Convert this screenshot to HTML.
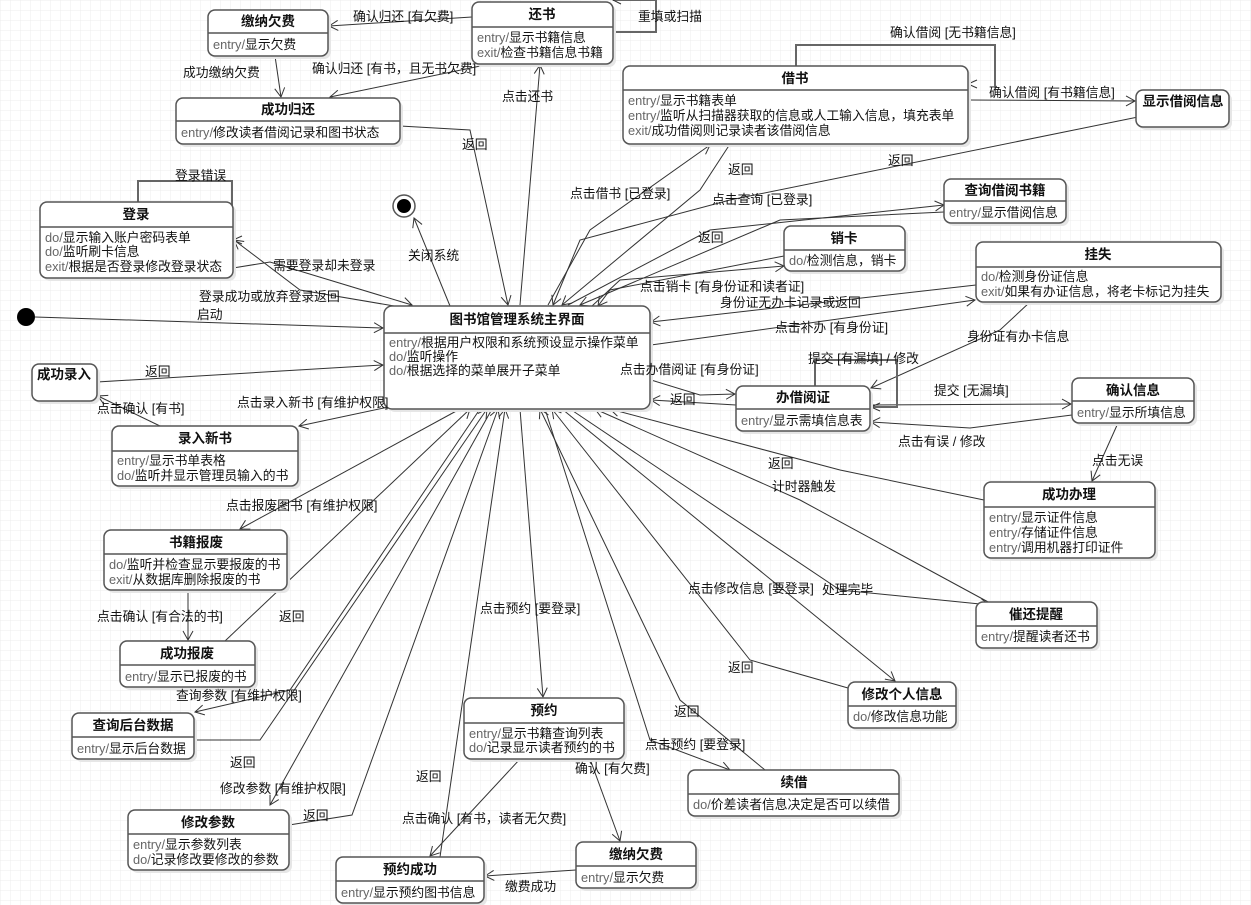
<!DOCTYPE html>
<html><head><meta charset="utf-8"><style>
html,body{margin:0;padding:0;background:#fff}
svg{display:block;font-family:"Liberation Sans","Noto Sans CJK SC",sans-serif}
.b{fill:#fff;stroke:#555;stroke-width:1.5}
.s{fill:#e6e6e6;stroke:none}
.dv{stroke:#555;stroke-width:1.5}
.t{font-size:13.5px;font-weight:bold;text-anchor:middle;fill:#111}
.c{font-size:12.8px;fill:#111}
.k{fill:#666}
.e{fill:none;stroke:#333;stroke-width:1}
.lp{fill:none;stroke:#666;stroke-width:2}
.l{font-size:12.8px;fill:#111}
</style></head><body>
<svg width="1251" height="905" viewBox="0 0 1251 905">
<defs>
<pattern id="g" width="10" height="10" patternUnits="userSpaceOnUse"><path d="M10 0H0V10" fill="none" stroke="#ececec" stroke-width="1"/></pattern>
<marker id="a" markerWidth="12" markerHeight="12" refX="10" refY="6" orient="auto" markerUnits="userSpaceOnUse"><path d="M1 1L10 6L1 11" fill="none" stroke="#333" stroke-width="1"/></marker>
</defs>
<rect width="1251" height="905" fill="url(#g)"/>

<g class="e" marker-end="url(#a)">
<path d="M472 17L329 26"/>
<path d="M275 56L281 97"/>
<path d="M490 64L330 97"/>
<path d="M400 126L470 130L508 305"/>
<path d="M520 305L540 65"/>
<path d="M968 100L1135 101"/>
<path d="M1138 117L730 200L580 240L553 305"/>
<path d="M548 305L590 230L710 145"/>
<path d="M730 144L700 190L562 305"/>
<path d="M568 305L710 230L944 205"/>
<path d="M944 212L780 220L580 305"/>
<path d="M592 306L620 280L784 266"/>
<path d="M784 256L610 290L598 306"/>
<path d="M976 285L651 322"/>
<path d="M651 345L975 300"/>
<path d="M1030 302L1000 330L871 388"/>
<path d="M651 380L700 395L735 394"/>
<path d="M736 405L651 400"/>
<path d="M870 405L1071 404"/>
<path d="M1072 415L970 428L871 422"/>
<path d="M1118 423L1092 481"/>
<path d="M984 500L840 470L610 409"/>
<path d="M990 603L800 500L595 409"/>
<path d="M570 409L840 590L990 605"/>
<path d="M562 409L895 681"/>
<path d="M848 688L750 660L552 409"/>
<path d="M545 409L650 740L730 770"/>
<path d="M765 770L680 700L540 409"/>
<path d="M520 409L543 697"/>
<path d="M520 759L430 856"/>
<path d="M590 759L620 841"/>
<path d="M576 870L485 876"/>
<path d="M440 857L505 409"/>
<path d="M492 409L270 805"/>
<path d="M289 825L352 815L498 409"/>
<path d="M480 409L290 690L195 712"/>
<path d="M194 740L260 740L487 409"/>
<path d="M225 641L470 409"/>
<path d="M188 590L188 640"/>
<path d="M460 409L240 529"/>
<path d="M440 396L299 426"/>
<path d="M160 426L98 396"/>
<path d="M97 382L383 365"/>
<path d="M35 317L383 328"/>
<path d="M233 268L270 262L412 305"/>
<path d="M400 307L300 290L234 240"/>
<path d="M450 306L414 218"/>
</g>
<g class="lp">
<path d="M613 32H656V0H613"/>
<path d="M796 66V45H995V88"/>
<path d="M815 386V360H897V407H871"/>
<path d="M138 202V181H232V240H234"/>
</g>
<g fill="none" stroke="#333"><path d="M621 -4L613 0L621 4"/><path d="M977 80L968 84L977 88"/><path d="M880 403L871 407L880 411"/><path d="M242 236L233 240L242 244"/></g>

<circle cx="26" cy="317" r="9" fill="#000"/>
<circle cx="404" cy="206" r="11" fill="#fff" stroke="#555" stroke-width="1.5"/>
<circle cx="404" cy="206" r="7" fill="#000"/>

<g>
<rect class="s" x="211" y="13" width="120" height="46" rx="7"/><rect class="b" x="208" y="10" width="120" height="46" rx="7"/><text class="t" x="268" y="26">缴纳欠费</text><line class="dv" x1="208" y1="33" x2="328" y2="33"/><text class="c" x="213" y="49"><tspan class="k">entry/</tspan>显示欠费</text>

<rect class="s" x="475" y="5" width="141" height="62" rx="7"/><rect class="b" x="472" y="2" width="141" height="62" rx="7"/><text class="t" x="542" y="19">还书</text><line class="dv" x1="472" y1="27" x2="613" y2="27"/><text class="c" x="477" y="42"><tspan class="k">entry/</tspan>显示书籍信息</text><text class="c" x="477" y="57"><tspan class="k">exit/</tspan>检查书籍信息书籍</text>

<rect class="s" x="179" y="101" width="224" height="46" rx="7"/><rect class="b" x="176" y="98" width="224" height="46" rx="7"/><text class="t" x="288" y="114">成功归还</text><line class="dv" x1="176" y1="121" x2="400" y2="121"/><text class="c" x="181" y="137"><tspan class="k">entry/</tspan>修改读者借阅记录和图书状态</text>

<rect class="s" x="626" y="69" width="345" height="78" rx="7"/><rect class="b" x="623" y="66" width="345" height="78" rx="7"/><text class="t" x="795" y="83">借书</text><line class="dv" x1="623" y1="90" x2="968" y2="90"/><text class="c" x="628" y="105"><tspan class="k">entry/</tspan>显示书籍表单</text><text class="c" x="628" y="120"><tspan class="k">entry/</tspan>监听从扫描器获取的信息或人工输入信息，填充表单</text><text class="c" x="628" y="135"><tspan class="k">exit/</tspan>成功借阅则记录读者该借阅信息</text>

<rect class="s" x="1139" y="93" width="93" height="37" rx="7"/><rect class="b" x="1136" y="90" width="93" height="37" rx="7"/><text class="t" x="1183" y="106">显示借阅信息</text>

<rect class="s" x="947" y="182" width="122" height="44" rx="7"/><rect class="b" x="944" y="179" width="122" height="44" rx="7"/><text class="t" x="1005" y="195">查询借阅书籍</text><line class="dv" x1="944" y1="201" x2="1066" y2="201"/><text class="c" x="949" y="217"><tspan class="k">entry/</tspan>显示借阅信息</text>

<rect class="s" x="43" y="205" width="193" height="76" rx="7"/><rect class="b" x="40" y="202" width="193" height="76" rx="7"/><text class="t" x="136" y="219">登录</text><line class="dv" x1="40" y1="227" x2="233" y2="227"/><text class="c" x="45" y="242"><tspan class="k">do/</tspan>显示输入账户密码表单</text><text class="c" x="45" y="256"><tspan class="k">do/</tspan>监听刷卡信息</text><text class="c" x="45" y="271"><tspan class="k">exit/</tspan>根据是否登录修改登录状态</text>

<rect class="s" x="787" y="229" width="121" height="45" rx="7"/><rect class="b" x="784" y="226" width="121" height="45" rx="7"/><text class="t" x="844" y="243">销卡</text><line class="dv" x1="784" y1="250" x2="905" y2="250"/><text class="c" x="789" y="265"><tspan class="k">do/</tspan>检测信息，销卡</text>

<rect class="s" x="979" y="245" width="245" height="60" rx="7"/><rect class="b" x="976" y="242" width="245" height="60" rx="7"/><text class="t" x="1098" y="259">挂失</text><line class="dv" x1="976" y1="267" x2="1221" y2="267"/><text class="c" x="981" y="281"><tspan class="k">do/</tspan>检测身份证信息</text><text class="c" x="981" y="296"><tspan class="k">exit/</tspan>如果有办证信息，将老卡标记为挂失</text>

<rect class="s" x="387" y="309" width="266" height="103" rx="8"/><rect class="b" x="384" y="306" width="266" height="103" rx="8"/><text class="t" x="517" y="324">图书馆管理系统主界面</text><line class="dv" x1="384" y1="333" x2="650" y2="333"/><text class="c" x="389" y="347"><tspan class="k">entry/</tspan>根据用户权限和系统预设显示操作菜单</text><text class="c" x="389" y="361"><tspan class="k">do/</tspan>监听操作</text><text class="c" x="389" y="375"><tspan class="k">do/</tspan>根据选择的菜单展开子菜单</text>

<rect class="s" x="35" y="367" width="65" height="37" rx="7"/><rect class="b" x="32" y="364" width="65" height="37" rx="7"/><text class="t" x="64" y="379">成功录入</text>

<rect class="s" x="115" y="429" width="186" height="60" rx="7"/><rect class="b" x="112" y="426" width="186" height="60" rx="7"/><text class="t" x="205" y="443">录入新书</text><line class="dv" x1="112" y1="451" x2="298" y2="451"/><text class="c" x="117" y="465"><tspan class="k">entry/</tspan>显示书单表格</text><text class="c" x="117" y="480"><tspan class="k">do/</tspan>监听并显示管理员输入的书</text>

<rect class="s" x="739" y="389" width="134" height="45" rx="7"/><rect class="b" x="736" y="386" width="134" height="45" rx="7"/><text class="t" x="803" y="402">办借阅证</text><line class="dv" x1="736" y1="409" x2="870" y2="409"/><text class="c" x="741" y="425"><tspan class="k">entry/</tspan>显示需填信息表</text>

<rect class="s" x="1075" y="381" width="122" height="45" rx="7"/><rect class="b" x="1072" y="378" width="122" height="45" rx="7"/><text class="t" x="1133" y="395">确认信息</text><line class="dv" x1="1072" y1="401" x2="1194" y2="401"/><text class="c" x="1077" y="417"><tspan class="k">entry/</tspan>显示所填信息</text>

<rect class="s" x="987" y="485" width="171" height="76" rx="7"/><rect class="b" x="984" y="482" width="171" height="76" rx="7"/><text class="t" x="1069" y="499">成功办理</text><line class="dv" x1="984" y1="507" x2="1155" y2="507"/><text class="c" x="989" y="522"><tspan class="k">entry/</tspan>显示证件信息</text><text class="c" x="989" y="537"><tspan class="k">entry/</tspan>存储证件信息</text><text class="c" x="989" y="552"><tspan class="k">entry/</tspan>调用机器打印证件</text>

<rect class="s" x="107" y="533" width="183" height="60" rx="7"/><rect class="b" x="104" y="530" width="183" height="60" rx="7"/><text class="t" x="196" y="547">书籍报废</text><line class="dv" x1="104" y1="554" x2="287" y2="554"/><text class="c" x="109" y="569"><tspan class="k">do/</tspan>监听并检查显示要报废的书</text><text class="c" x="109" y="584"><tspan class="k">exit/</tspan>从数据库删除报废的书</text>

<rect class="s" x="979" y="605" width="121" height="46" rx="7"/><rect class="b" x="976" y="602" width="121" height="46" rx="7"/><text class="t" x="1036" y="619">催还提醒</text><line class="dv" x1="976" y1="626" x2="1097" y2="626"/><text class="c" x="981" y="641"><tspan class="k">entry/</tspan>提醒读者还书</text>

<rect class="s" x="123" y="644" width="135" height="46" rx="7"/><rect class="b" x="120" y="641" width="135" height="46" rx="7"/><text class="t" x="187" y="658">成功报废</text><line class="dv" x1="120" y1="665" x2="255" y2="665"/><text class="c" x="125" y="681"><tspan class="k">entry/</tspan>显示已报废的书</text>

<rect class="s" x="851" y="685" width="108" height="46" rx="7"/><rect class="b" x="848" y="682" width="108" height="46" rx="7"/><text class="t" x="902" y="699">修改个人信息</text><line class="dv" x1="848" y1="706" x2="956" y2="706"/><text class="c" x="853" y="721"><tspan class="k">do/</tspan>修改信息功能</text>

<rect class="s" x="467" y="701" width="160" height="61" rx="7"/><rect class="b" x="464" y="698" width="160" height="61" rx="7"/><text class="t" x="544" y="715">预约</text><line class="dv" x1="464" y1="723" x2="624" y2="723"/><text class="c" x="469" y="738"><tspan class="k">entry/</tspan>显示书籍查询列表</text><text class="c" x="469" y="752"><tspan class="k">do/</tspan>记录显示读者预约的书</text>

<rect class="s" x="75" y="716" width="122" height="46" rx="7"/><rect class="b" x="72" y="713" width="122" height="46" rx="7"/><text class="t" x="133" y="730">查询后台数据</text><line class="dv" x1="72" y1="737" x2="194" y2="737"/><text class="c" x="77" y="753"><tspan class="k">entry/</tspan>显示后台数据</text>

<rect class="s" x="691" y="773" width="211" height="46" rx="7"/><rect class="b" x="688" y="770" width="211" height="46" rx="7"/><text class="t" x="794" y="787">续借</text><line class="dv" x1="688" y1="794" x2="899" y2="794"/><text class="c" x="693" y="809"><tspan class="k">do/</tspan>价差读者信息决定是否可以续借</text>

<rect class="s" x="131" y="813" width="161" height="60" rx="7"/><rect class="b" x="128" y="810" width="161" height="60" rx="7"/><text class="t" x="208" y="827">修改参数</text><line class="dv" x1="128" y1="834" x2="289" y2="834"/><text class="c" x="133" y="849"><tspan class="k">entry/</tspan>显示参数列表</text><text class="c" x="133" y="864"><tspan class="k">do/</tspan>记录修改要修改的参数</text>

<rect class="s" x="579" y="845" width="120" height="46" rx="7"/><rect class="b" x="576" y="842" width="120" height="46" rx="7"/><text class="t" x="636" y="859">缴纳欠费</text><line class="dv" x1="576" y1="866" x2="696" y2="866"/><text class="c" x="581" y="882"><tspan class="k">entry/</tspan>显示欠费</text>

<rect class="s" x="339" y="860" width="148" height="46" rx="7"/><rect class="b" x="336" y="857" width="148" height="46" rx="7"/><text class="t" x="410" y="874">预约成功</text><line class="dv" x1="336" y1="881" x2="484" y2="881"/><text class="c" x="341" y="897"><tspan class="k">entry/</tspan>显示预约图书信息</text>
</g>

<g class="l">
<text x="353" y="21">确认归还 [有欠费]</text>
<text x="638" y="21">重填或扫描</text>
<text x="183" y="77">成功缴纳欠费</text>
<text x="312" y="73">确认归还 [有书，且无书欠费]</text>
<text x="462" y="149">返回</text>
<text x="502" y="101">点击还书</text>
<text x="890" y="37">确认借阅 [无书籍信息]</text>
<text x="989" y="97">确认借阅 [有书籍信息]</text>
<text x="888" y="165">返回</text>
<text x="570" y="198">点击借书 [已登录]</text>
<text x="728" y="174">返回</text>
<text x="712" y="204">点击查询 [已登录]</text>
<text x="698" y="242">返回</text>
<text x="640" y="291">点击销卡 [有身份证和读者证]</text>
<text x="720" y="307">身份证无办卡记录或返回</text>
<text x="775" y="332">点击补办 [有身份证]</text>
<text x="967" y="341">身份证有办卡信息</text>
<text x="808" y="363">提交 [有漏填] / 修改</text>
<text x="620" y="374">点击办借阅证 [有身份证]</text>
<text x="670" y="404">返回</text>
<text x="934" y="395">提交 [无漏填]</text>
<text x="898" y="446">点击有误 / 修改</text>
<text x="1092" y="465">点击无误</text>
<text x="768" y="468">返回</text>
<text x="772" y="491">计时器触发</text>
<text x="688" y="593">点击修改信息 [要登录]</text>
<text x="822" y="594">处理完毕</text>
<text x="728" y="672">返回</text>
<text x="674" y="716">返回</text>
<text x="645" y="749">点击预约 [要登录]</text>
<text x="480" y="613">点击预约 [要登录]</text>
<text x="575" y="773">确认 [有欠费]</text>
<text x="402" y="823">点击确认 [有书，读者无欠费]</text>
<text x="505" y="891">缴费成功</text>
<text x="416" y="781">返回</text>
<text x="220" y="793">修改参数 [有维护权限]</text>
<text x="303" y="820">返回</text>
<text x="176" y="700">查询参数 [有维护权限]</text>
<text x="230" y="767">返回</text>
<text x="279" y="621">返回</text>
<text x="97" y="621">点击确认 [有合法的书]</text>
<text x="226" y="510">点击报废图书 [有维护权限]</text>
<text x="237" y="407">点击录入新书 [有维护权限]</text>
<text x="97" y="413">点击确认 [有书]</text>
<text x="145" y="376">返回</text>
<text x="197" y="319">启动</text>
<text x="273" y="270">需要登录却未登录</text>
<text x="199" y="301">登录成功或放弃登录返回</text>
<text x="175" y="180">登录错误</text>
<text x="408" y="260">关闭系统</text>
</g>
</svg>
</body></html>
